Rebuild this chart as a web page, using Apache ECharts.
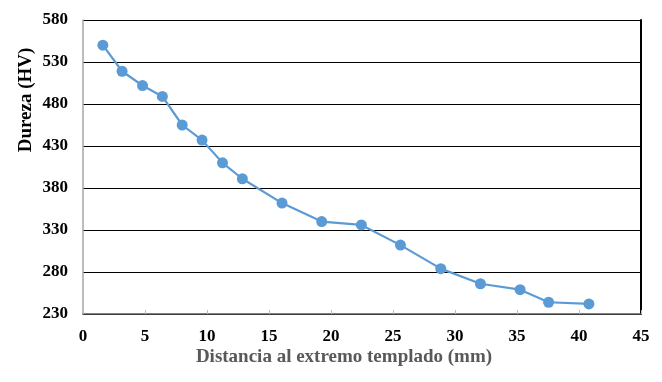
<!DOCTYPE html>
<html><head><meta charset="utf-8">
<script src="https://cdn.jsdelivr.net/npm/echarts@6/dist/echarts.min.js"></script>
<style>html,body{margin:0;padding:0;background:#fff}#c{width:662px;height:382px}</style>
</head><body><div id="c"></div>
<script>
const distance = [1.6, 3.15, 4.8, 6.4, 8.0, 9.6, 11.25, 12.85, 16.05, 19.25, 22.45, 25.6, 28.85, 32.05, 35.25, 37.55, 40.8];
const hardness = [550, 519, 502, 489, 455, 437, 410, 391, 362, 340, 336, 312, 284, 266, 259, 244, 242];
const xTitle = 'Distancia al extremo templado (mm)';
const yTitle = 'Dureza (HV)';
const font = '"Liberation Serif","Times New Roman",serif';
const chart = echarts.init(document.getElementById('c'));
chart.setOption({
  animation: false,
  grid: {left: 83, right: 21, top: 20, bottom: 68},
  graphic: [{
    type: 'text', x: 26, y: 100, rotation: Math.PI / 2,
    style: {text: yTitle, font: 'bold 19px ' + font, fill: '#000', textAlign: 'center', textVerticalAlign: 'middle'}
  }, {
    type: 'text', x: 344, y: 357,
    style: {text: xTitle, font: 'bold 19px ' + font, fill: '#595959', textAlign: 'center', textVerticalAlign: 'middle'}
  }],
  xAxis: {
    type: 'value', min: 0, max: 45, interval: 5,
    axisLine: {lineStyle: {color: '#555', width: 1.5}},
    axisTick: {show: true, inside: true, length: 4, lineStyle: {color: '#bbb'}},
    axisLabel: {fontFamily: font, fontWeight: 'bold', fontSize: 17, color: '#000', margin: 14},
    splitLine: {show: false}
  },
  yAxis: [{
    type: 'value', min: 230, max: 580, interval: 50,
    axisLine: {show: true, lineStyle: {color: '#a6a6a6', width: 1.5}},
    axisTick: {show: false},
    axisLabel: {fontFamily: font, fontWeight: 'bold', fontSize: 17, color: '#000', margin: 15},
    splitLine: {show: true, lineStyle: {color: '#000', width: 1.2}}
  }, {
    type: 'value', min: 230, max: 580, interval: 50, position: 'right',
    axisLine: {show: true, lineStyle: {color: '#000', width: 2}},
    axisTick: {show: false}, axisLabel: {show: false}, splitLine: {show: false}
  }],
  series: [{
    type: 'line',
    data: distance.map((d, i) => [d, hardness[i]]),
    symbol: 'circle', symbolSize: 11,
    itemStyle: {color: '#5B9BD5'},
    lineStyle: {color: '#5B9BD5', width: 2.2}
  }]
});
</script></body></html>
